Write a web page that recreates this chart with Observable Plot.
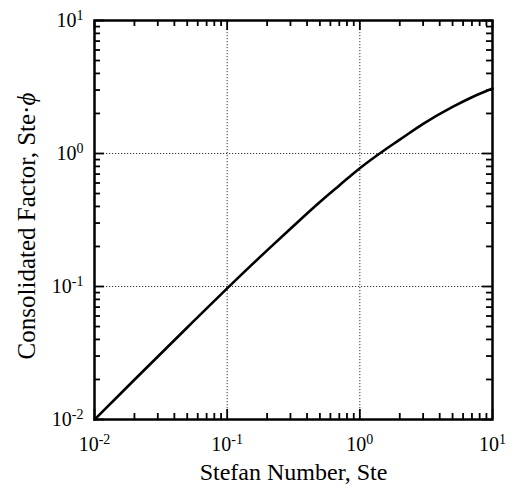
<!DOCTYPE html>
<html><head><meta charset="utf-8">
<script src="https://cdn.jsdelivr.net/npm/d3@7"></script>
<script src="https://cdn.jsdelivr.net/npm/@observablehq/plot@0.6"></script>
<style>body{margin:0;background:#fff}</style>
</head><body><div id="chart"></div>
<script>
// Stefan number (x) and consolidated factor Ste·φ (y)
const steValues    = [0.01, 0.02, 0.05, 0.1, 0.2, 0.3, 0.5, 0.7, 1.0, 1.5, 2.0, 3.0, 5.0, 7.0, 10.0];
const factorValues = [0.00997, 0.0199, 0.0492, 0.0968, 0.187, 0.272, 0.432, 0.575, 0.775, 1.045, 1.27, 1.67, 2.24, 2.65, 3.08];
const majorTicks = [0.01, 0.1, 1, 10];
const tickExponents = ["-2", "-1", "0", "1"];
const minorTicks = [2,3,4,5,6,7,8,9,20,30,40,50,60,70,80,90,200,300,400,500,600,700,800,900].map(d => d / 100);
const gridTicks = [0.1, 1];
const xLabel = "Stefan Number, Ste";
const yLabel = "Consolidated Factor, Ste·";
const yLabelSymbol = "ϕ";

const W = 513, H = 487, mL = 94, mR = 21, mT = 20, mB = 68;
const pw = W - mL - mR, ph = H - mT - mB;
const minorLen = 6, majorLen = 10;

const data = steValues.map((s, i) => ({ste: s, f: factorValues[i]}));
const fmt = d => "10^" + tickExponents[majorTicks.indexOf(d)];
const tickStyle = {stroke: "black", strokeWidth: 1.8};

const chart = Plot.plot({
  width: W, height: H,
  marginLeft: mL, marginRight: mR, marginTop: mT, marginBottom: mB,
  style: {fontFamily: "'Liberation Serif', 'DejaVu Serif', serif", fontSize: "20px", background: "white", color: "black"},
  x: {type: "log", domain: [0.01, 10]},
  y: {type: "log", domain: [0.01, 10]},
  marks: [
    Plot.gridX(gridTicks, {stroke: "#333", strokeOpacity: 1, strokeWidth: 1, strokeDasharray: "1.2,1.8"}),
    Plot.gridY(gridTicks, {stroke: "#333", strokeOpacity: 1, strokeWidth: 1, strokeDasharray: "1.2,1.8"}),
    // inward minor ticks on all four sides
    Plot.tickX(minorTicks, {x: d => d, insetTop: ph - minorLen, ...tickStyle}),
    Plot.tickX(minorTicks, {x: d => d, insetBottom: ph - minorLen, ...tickStyle}),
    Plot.tickY(minorTicks, {y: d => d, insetRight: pw - minorLen, ...tickStyle}),
    Plot.tickY(minorTicks, {y: d => d, insetLeft: pw - minorLen, ...tickStyle}),
    // inward major ticks
    Plot.tickX(majorTicks, {x: d => d, insetTop: ph - majorLen, ...tickStyle}),
    Plot.tickX(majorTicks, {x: d => d, insetBottom: ph - majorLen, ...tickStyle}),
    Plot.tickY(majorTicks, {y: d => d, insetRight: pw - majorLen, ...tickStyle}),
    Plot.tickY(majorTicks, {y: d => d, insetLeft: pw - majorLen, ...tickStyle}),
    // tick labels
    Plot.axisX(majorTicks, {anchor: "bottom", tickSize: 0, tickPadding: 17, tickFormat: fmt, label: null, fontSize: 20}),
    Plot.axisY(majorTicks, {anchor: "left", tickSize: 0, tickPadding: 11, tickFormat: fmt, label: null, fontSize: 20}),
    // axis titles
    Plot.text([xLabel], {frameAnchor: "bottom", dy: 53, fontSize: 24, lineAnchor: "middle", fill: "black"}),
    Plot.text([yLabel], {frameAnchor: "left", dx: -68, dy: 6, rotate: -90, textAnchor: "middle", fontSize: 25, lineAnchor: "middle", fill: "black"}),
    Plot.frame({stroke: "black", strokeWidth: 2.5}),
    Plot.line(data, {x: "ste", y: "f", stroke: "black", strokeWidth: 2.6, curve: "monotone-x"})
  ]
});
document.getElementById("chart").appendChild(chart);

// superscript exponents in tick labels
d3.select(chart).selectAll("g[aria-label$='tick label'] text").each(function() {
  const t = d3.select(this).text();
  if (!t.includes("^")) return;
  const [base, exp] = t.split("^");
  const el = d3.select(this).text(base);
  el.append("tspan").attr("dy", "-0.5em").attr("font-size", "0.7em").text(exp);
});
// italic phi in the y title
d3.select(chart).selectAll("text").each(function() {
  if (d3.select(this).text() === yLabel) {
    d3.select(this).append("tspan").attr("font-style", "italic").text(yLabelSymbol);
  }
});
</script></body></html>
